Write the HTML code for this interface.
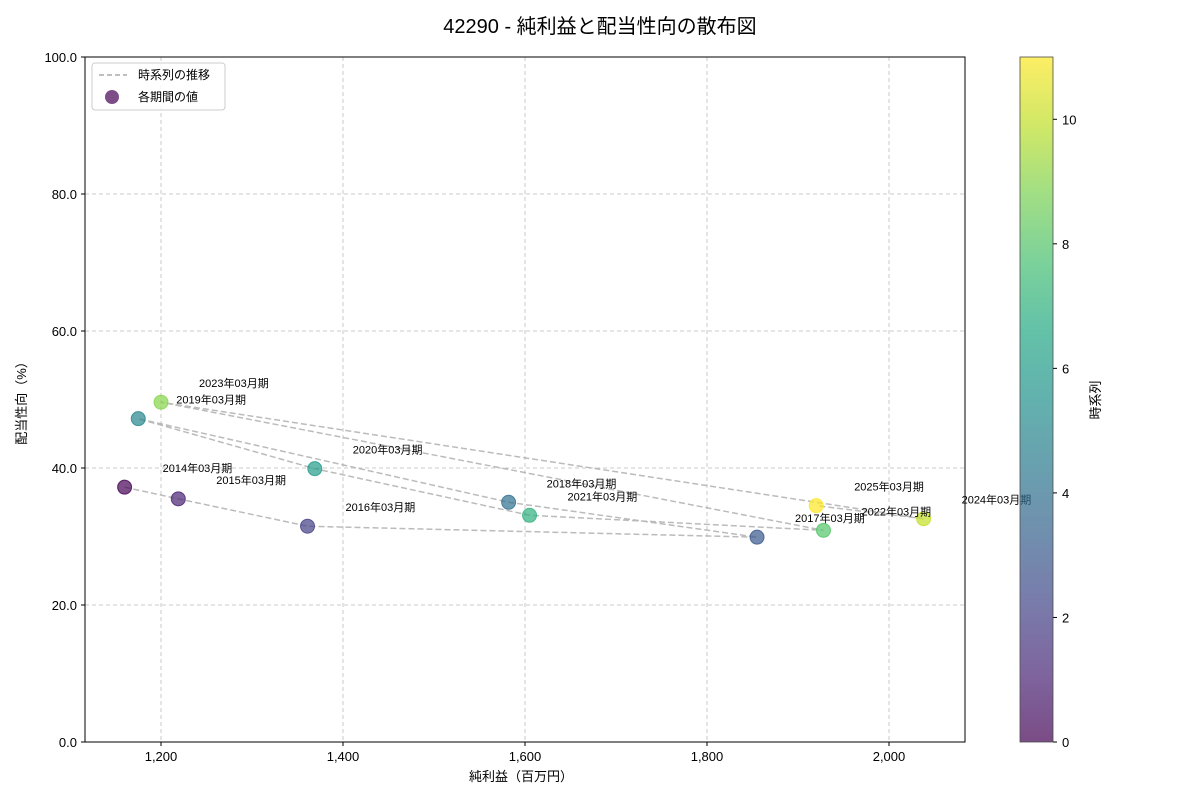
<!DOCTYPE html>
<html><head><meta charset="utf-8"><style>
body{margin:0;background:#fff;}
svg text{font-family:"Liberation Sans","Noto Sans CJK JP",sans-serif;}
</style></head><body>
<svg id="chart" width="1200" height="800" xmlns="http://www.w3.org/2000/svg">
<defs>
<linearGradient id="vir" x1="0" y1="1" x2="0" y2="0">
<stop offset="0" stop-color="#440154"/><stop offset="0.1" stop-color="#482475"/><stop offset="0.2" stop-color="#414487"/><stop offset="0.3" stop-color="#355f8d"/><stop offset="0.4" stop-color="#2a788e"/><stop offset="0.5" stop-color="#21918c"/><stop offset="0.6" stop-color="#22a884"/><stop offset="0.7" stop-color="#44bf70"/><stop offset="0.8" stop-color="#7ad151"/><stop offset="0.9" stop-color="#bddf26"/><stop offset="1" stop-color="#fde725"/>
</linearGradient>
</defs>
<text x="600" y="33" text-anchor="middle" font-size="20">42290 - 純利益と配当性向の散布図</text>
<g id="grid"></g>
<g id="axes"></g>
<g id="series"></g>
<rect x="85" y="57" width="880" height="685" fill="none" stroke="#000" stroke-width="1"/>
<text x="521" y="781" text-anchor="middle" font-size="13">純利益（百万円）</text>
<text transform="translate(26,400) rotate(-90)" text-anchor="middle" font-size="13">配当性向（%）</text>
<g>
<rect x="92" y="63" width="133" height="47" fill="#fff" fill-opacity="0.8" stroke="#ccc" rx="3"/>
<line x1="99" y1="75" x2="127" y2="75" stroke="#aaa" stroke-dasharray="5,3" stroke-width="1.5"/>
<text x="138" y="79" font-size="12">時系列の推移</text>
<circle cx="112" cy="97" r="7" fill="#440154" fill-opacity="0.7"/>
<text x="138" y="101" font-size="12">各期間の値</text>
</g>
<rect x="1020" y="57" width="33" height="685" fill="url(#vir)" opacity="0.7" stroke="#000" stroke-width="0.8"/>
<g id="cbar"></g>
<text transform="translate(1100,400) rotate(-90)" text-anchor="middle" font-size="13">時系列</text>
</svg>
<script>
const periods=["2014年03月期","2015年03月期","2016年03月期","2017年03月期","2018年03月期","2019年03月期","2020年03月期","2021年03月期","2022年03月期","2023年03月期","2024年03月期","2025年03月期"];
const netIncome=[1160,1219,1361,1855,1582,1175,1369,1605,1928,1200,2038,1920];
const payout=[37.2,35.5,31.5,29.9,35.0,47.2,39.9,33.1,30.9,49.6,32.6,34.5];
const xTicks=[1200,1400,1600,1800,2000];
const yTicks=[0,20,40,60,80,100];
const cTicks=[0,2,4,6,8,10];
const NS="http://www.w3.org/2000/svg";
const X=v=>161+(v-1200)*0.91;
const Y=v=>742-v*6.85;
const C=t=>742-t*(685/11);
const vir=["#440154","#482475","#414487","#355f8d","#2a788e","#21918c","#22a884","#44bf70","#7ad151","#bddf26","#fde725"];
function color(t){const p=t/11*10;const i=Math.min(9,Math.floor(p));const f=p-i;
 const a=vir[i],b=vir[i+1];const h=(s,k)=>parseInt(s.substr(1+2*k,2),16);
 return "rgb("+[0,1,2].map(k=>Math.round(h(a,k)+(h(b,k)-h(a,k))*f)).join(",")+")";}
function mk(tag,attrs,parent,txt){const e=document.createElementNS(NS,tag);for(const k in attrs)e.setAttribute(k,attrs[k]);if(txt!==undefined)e.textContent=txt;document.getElementById(parent).appendChild(e);return e;}
xTicks.forEach(v=>{
 let g=mk("line",{x1:X(v),x2:X(v),y1:57,y2:742,stroke:"#bbb","stroke-dasharray":"4,3","stroke-width":0.8},"grid");
 
 
 let t=mk("line",{x1:X(v),x2:X(v),y1:742,y2:746,stroke:"#000"},"axes");
 
 
 let l=mk("text",{x:X(v),y:761,"text-anchor":"middle","font-size":13},"axes",v.toLocaleString("en-US"));
 
 
});
yTicks.forEach(v=>{
 if(v>0&&v<100){let g=mk("line",{x1:85,x2:965,y1:Y(v),y2:Y(v),stroke:"#bbb","stroke-dasharray":"4,3","stroke-width":0.8},"grid");
 
 }
 let t=mk("line",{x1:81,x2:85,y1:Y(v),y2:Y(v),stroke:"#000"},"axes");
 
 
 let l=mk("text",{x:77,y:Y(v)+5,"text-anchor":"end","font-size":13},"axes",v.toFixed(1));
 
 
});
cTicks.forEach(v=>{
 let t=mk("line",{x1:1053,x2:1057,y1:C(v),y2:C(v),stroke:"#000"},"cbar");
 
 
 let l=mk("text",{x:1062,y:C(v)+5,"font-size":13},"cbar",String(v));
 
 
});
const pts=netIncome.map((v,i)=>X(v)+","+Y(payout[i])).join(" ");
let pl=mk("polyline",{points:pts,fill:"none",stroke:"#aaa","stroke-width":1.5,"stroke-dasharray":"6,3","stroke-opacity":0.8},"series");


netIncome.forEach((v,i)=>{
 let c=mk("circle",{cx:X(v),cy:Y(payout[i]),r:7,fill:color(i),"fill-opacity":0.7,stroke:color(i),"stroke-opacity":0.8},"series");
 
 
});
netIncome.forEach((v,i)=>{
 let t=mk("text",{x:X(v)+38,y:Y(payout[i])-15,"font-size":11},"series",periods[i]);
 
 
});
</script>
</body></html>
